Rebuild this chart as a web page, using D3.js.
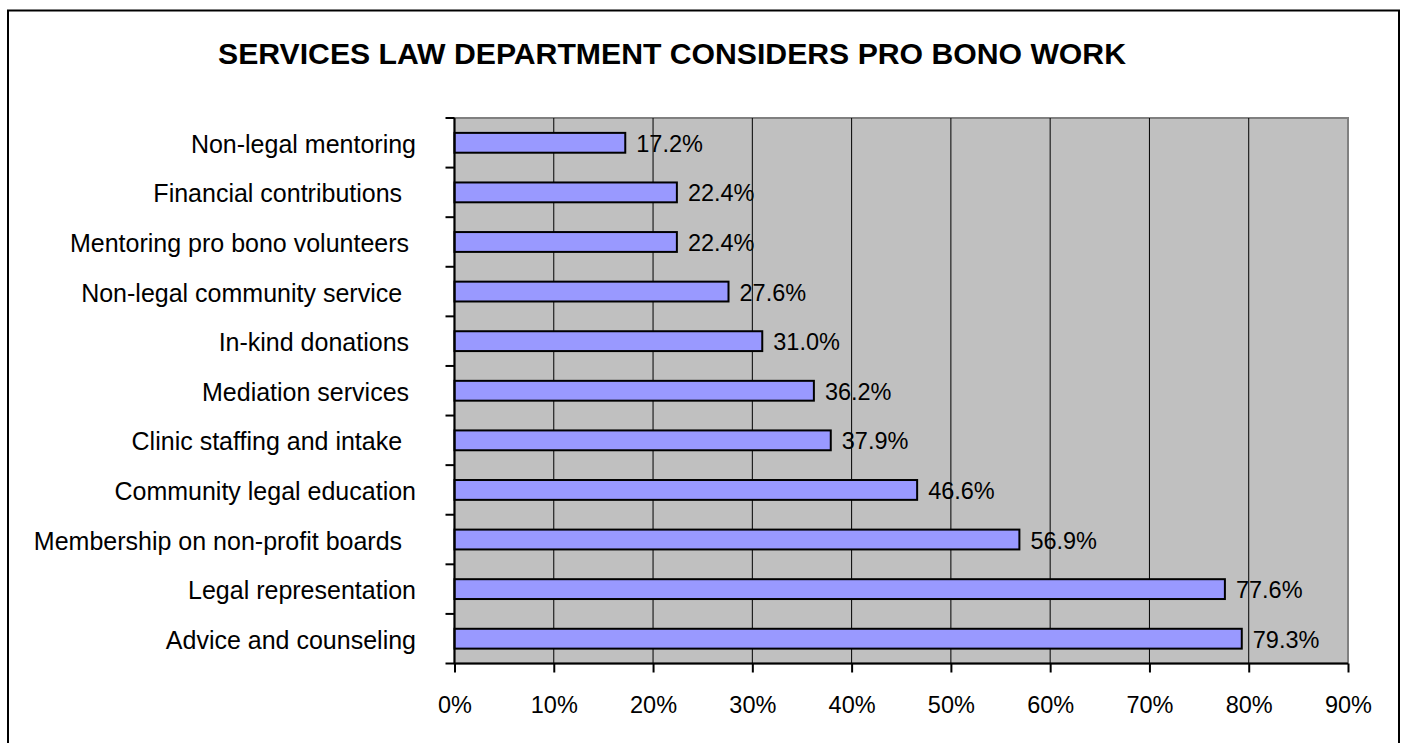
<!DOCTYPE html>
<html>
<head>
<meta charset="utf-8">
<script src="https://cdn.jsdelivr.net/npm/d3@7"></script>
<style>
  body { margin: 0; background: #fff; }
  text { font-family: "Liberation Sans", Arial, sans-serif; fill: #000; white-space: pre; }
</style>
</head>
<body>
<div id="chart"></div>
<script>
// chart data, top to bottom as shown
const categories = [
  'Non-legal mentoring',
  'Financial contributions  ',
  'Mentoring pro bono volunteers ',
  'Non-legal community service  ',
  'In-kind donations ',
  'Mediation services ',
  'Clinic staffing and intake  ',
  'Community legal education',
  'Membership on non-profit boards  ',
  'Legal representation',
  'Advice and counseling'
];
const values = [17.2, 22.4, 22.4, 27.6, 31.0, 36.2, 37.9, 46.6, 56.9, 77.6, 79.3];
const xTicks = [0, 10, 20, 30, 40, 50, 60, 70, 80, 90];
const title = 'SERVICES LAW DEPARTMENT CONSIDERS PRO BONO WORK';

const width = 1402, height = 743;
const plot = {left: 454.5, top: 118, right: 1348, bottom: 663.5};

const svg = d3.select('#chart')
  .append('svg')
  .attr('width', width)
  .attr('height', height);

// outer frame
svg.append('rect')
  .attr('x', 8).attr('y', 10.5)
  .attr('width', 1391).attr('height', 760)
  .attr('fill', 'none')
  .attr('stroke', '#000')
  .attr('stroke-width', 2);

svg.append('text')
  .attr('x', 672).attr('y', 53)
  .attr('text-anchor', 'middle')
  .attr('dominant-baseline', 'central')
  .style('font-size', '30.2px')
  .style('font-weight', 'bold')
  .text(title);

const x = d3.scaleLinear().domain([0, 90]).range([plot.left, plot.right]);
const y = d3.scaleBand().domain(categories).range([plot.top, plot.bottom]).paddingInner(0.6).paddingOuter(0.3);
const band = d3.scaleBand().domain(categories).range([plot.top, plot.bottom]);

// plot background
svg.append('rect')
  .attr('x', plot.left).attr('y', plot.top)
  .attr('width', plot.right - plot.left).attr('height', plot.bottom - plot.top)
  .attr('fill', '#c0c0c0')
  .attr('stroke', '#808080')
  .attr('stroke-width', 2);

// vertical gridlines
svg.append('g')
  .selectAll('line')
  .data(xTicks.filter(d => d > 0 && d < 90))
  .enter()
  .append('line')
  .attr('x1', d => x(d)).attr('x2', d => x(d))
  .attr('y1', plot.top).attr('y2', plot.bottom)
  .attr('stroke', '#000')
  .attr('stroke-width', 1);

// bars
svg.append('g')
  .selectAll('rect')
  .data(values)
  .enter()
  .append('rect')
  .attr('x', x(0))
  .attr('y', (d, i) => y(categories[i]))
  .attr('width', d => x(d) - x(0))
  .attr('height', y.bandwidth())
  .attr('fill', '#9999ff')
  .attr('stroke', '#000')
  .attr('stroke-width', 2);

// value labels
svg.append('g')
  .selectAll('text')
  .data(values)
  .enter()
  .append('text')
  .attr('x', d => x(d) + 11)
  .attr('y', (d, i) => y(categories[i]) + y.bandwidth() / 2 + 1)
  .attr('dominant-baseline', 'central')
  .style('font-size', '23.5px')
  .text(d => d.toFixed(1) + '%');

// y axis: ticks at band edges
const yAxis = svg.append('g');
yAxis.append('line')
  .attr('x1', plot.left).attr('x2', plot.left)
  .attr('y1', plot.top).attr('y2', plot.bottom)
  .attr('stroke', '#000').attr('stroke-width', 2);
yAxis.selectAll('.tick')
  .data(d3.range(categories.length + 1))
  .enter()
  .append('line')
  .attr('x1', plot.left - 9).attr('x2', plot.left)
  .attr('y1', i => plot.top + i * band.step())
  .attr('y2', i => plot.top + i * band.step())
  .attr('stroke', '#000').attr('stroke-width', 2);
yAxis.selectAll('text')
  .data(categories)
  .enter()
  .append('text')
  .attr('x', 416)
  .attr('y', d => band(d) + band.bandwidth() / 2 + 1)
  .attr('text-anchor', 'end')
  .attr('dominant-baseline', 'central')
  .style('font-size', '25px')
  .text(d => d);

// x axis
const xAxis = svg.append('g')
  .attr('transform', `translate(0, ${plot.bottom})`)
  .call(d3.axisBottom(x).tickValues(xTicks).tickSize(9).tickPadding(24).tickFormat(d => d + '%'));
xAxis.select('.domain').attr('stroke', '#000').attr('stroke-width', 2).attr('d', `M${plot.left},0H${plot.right}`);
xAxis.selectAll('.tick line').attr('stroke', '#000').attr('stroke-width', 2);
xAxis.selectAll('.tick text')
  .style('font-size', '23.5px')
  .style('font-family', '"Liberation Sans", Arial, sans-serif');
</script>
</body>
</html>
